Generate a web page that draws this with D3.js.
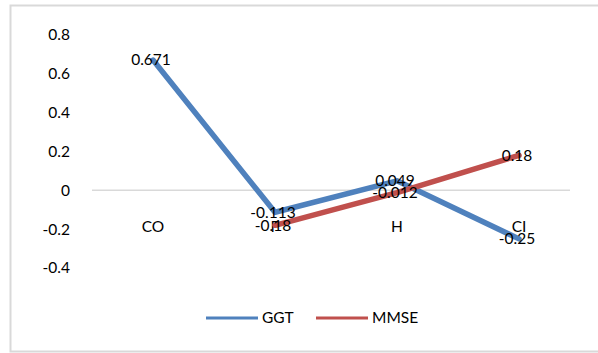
<!DOCTYPE html>
<html>
<head>
<meta charset="utf-8">
<script src="https://cdn.jsdelivr.net/npm/d3@7"></script>
<style>
  body { margin: 0; background: #fff; }
  text { font-family: Lato, "Open Sans", sans-serif; }
</style>
</head>
<body>
<div id="chart"></div>
<script>
// data
const categories = ["CO", "F", "H", "CI"];
const ggt = [0.671, -0.113, 0.049, -0.25];
const mmse = [null, -0.18, -0.012, 0.18];
const yTicks = [0.8, 0.6, 0.4, 0.2, 0, -0.2, -0.4];

const series = [
  {name: "GGT", values: ggt, color: "#4f81bd"},
  {name: "MMSE", values: mmse, color: "#c0504d"}
];

const width = 598, height = 353;
const margin = {top: 35, right: 18, bottom: 85, left: 92};
const fs = "15.5px";

const svg = d3.select("#chart").append("svg")
  .attr("width", width)
  .attr("height", height);

// chart frame
svg.append("rect")
  .attr("x", 10.5).attr("y", 5.5)
  .attr("width", 600).attr("height", 346)
  .attr("fill", "#fff")
  .attr("stroke", "#d9d9d9")
  .attr("stroke-width", 2);

const x = d3.scaleBand()
  .domain(categories)
  .range([margin.left, width - margin.right]);

const y = d3.scaleLinear()
  .domain([-0.4, 0.8])
  .range([height - margin.bottom, margin.top]);

// y axis labels, no line (plain hyphen minus like the original)
const yAxis = svg.append("g")
  .attr("transform", `translate(${margin.left - 22},0)`)
  .call(d3.axisLeft(y).tickValues(yTicks).tickSize(0).tickPadding(0).tickFormat(d => String(d)));
yAxis.select(".domain").remove();
yAxis.selectAll("text")
  .attr("font-size", fs)
  .attr("fill", "#000")
  .attr("font-family", "Lato, 'Open Sans', sans-serif");

// zero line
svg.append("line")
  .attr("x1", x.range()[0]).attr("x2", x.range()[1] - 10)
  .attr("y1", y(0)).attr("y2", y(0))
  .attr("stroke", "#d9d9d9")
  .attr("stroke-width", 1.5);

// category labels at the axis
svg.append("g")
  .selectAll("text")
  .data(categories)
  .join("text")
  .attr("x", d => x(d) + x.bandwidth() / 2)
  .attr("y", y(0) + 42)
  .attr("text-anchor", "middle")
  .attr("font-size", fs)
  .attr("fill", "#000")
  .text(d => d);

const line = d3.line()
  .defined(d => d.v !== null)
  .x(d => x(d.c) + x.bandwidth() / 2)
  .y(d => y(d.v));

series.forEach(s => {
  const pts = s.values.map((v, i) => ({c: categories[i], v}));
  svg.append("path")
    .datum(pts)
    .attr("fill", "none")
    .attr("stroke", s.color)
    .attr("stroke-width", 5.5)
    .attr("stroke-linejoin", "round")
    .attr("stroke-linecap", "round")
    .attr("d", line);
});

// data labels, centred on points
series.forEach(s => {
  const pts = s.values.map((v, i) => ({c: categories[i], v})).filter(d => d.v !== null);
  svg.append("g")
    .selectAll("text")
    .data(pts)
    .join("text")
    .attr("x", d => x(d.c) + x.bandwidth() / 2 - 2)
    .attr("y", d => y(d.v))
    .attr("dy", "0.35em")
    .attr("text-anchor", "middle")
    .attr("font-size", fs)
    .attr("fill", "#000")
    .text(d => String(d.v));
});

// legend
const legend = svg.append("g").attr("transform", "translate(206,318)");
const lx = [0, 110];
series.forEach((s, i) => {
  const g = legend.append("g").attr("transform", `translate(${lx[i]},0)`);
  g.append("line")
    .attr("x1", 0).attr("x2", 52)
    .attr("y1", 0).attr("y2", 0)
    .attr("stroke", s.color)
    .attr("stroke-width", 3);
  g.append("text")
    .attr("x", 56).attr("y", 0)
    .attr("dy", "0.35em")
    .attr("font-size", fs)
    .attr("fill", "#000")
    .text(s.name);
});
</script>
</body>
</html>
